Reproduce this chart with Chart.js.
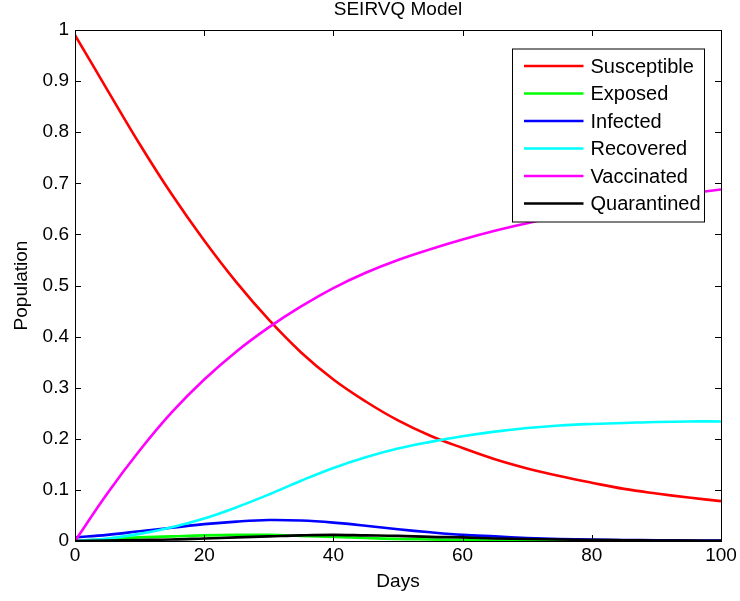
<!DOCTYPE html>
<html>
<head>
<meta charset="utf-8">
<title>SEIRVQ Model</title>
<script src="https://cdn.jsdelivr.net/npm/chart.js@4.4.1/dist/chart.umd.min.js"></script>
<style>
  html, body { margin: 0; padding: 0; background: #fff; }
  canvas { display: block; }
</style>
</head>
<body>
<canvas id="chart" width="740" height="601"></canvas>
<script>
// ── Data (every 5 days) ─────────────────────────────────────
const days = [0, 5, 10, 15, 20, 25, 30, 35, 40, 45, 50, 55, 60, 65, 70, 75, 80, 85, 90, 95, 100];

const susceptible = [0.990, 0.883, 0.777, 0.678, 0.588, 0.506, 0.433, 0.369, 0.316, 0.273, 0.236,
                     0.206, 0.182, 0.160, 0.142, 0.127, 0.114, 0.102, 0.093, 0.085, 0.078];
const exposed     = [0, 0.004, 0.007, 0.009, 0.011, 0.012, 0.012, 0.010, 0.008, 0.006, 0.004,
                     0.003, 0.002, 0.001, 0.0007, 0.0004, 0.0003, 0.0002, 0.0001, 0.0001, 0];
const infected    = [0.007, 0.012, 0.019, 0.026, 0.033, 0.038, 0.041, 0.040, 0.036, 0.030, 0.023,
                     0.017, 0.012, 0.009, 0.006, 0.004, 0.003, 0.002, 0.0015, 0.001, 0.001];
const recovered   = [0, 0.005, 0.014, 0.027, 0.044, 0.066, 0.091, 0.118, 0.143, 0.164, 0.181,
                     0.194, 0.205, 0.214, 0.221, 0.226, 0.229, 0.231, 0.233, 0.234, 0.234];
const vaccinated  = [0, 0.093, 0.177, 0.252, 0.316, 0.371, 0.418, 0.459, 0.495, 0.525, 0.550,
                     0.571, 0.590, 0.607, 0.622, 0.636, 0.649, 0.661, 0.671, 0.680, 0.688];
const quarantined = [0, 0.001, 0.002, 0.003, 0.005, 0.007, 0.009, 0.011, 0.012, 0.011, 0.010,
                     0.008, 0.007, 0.005, 0.004, 0.003, 0.002, 0.0015, 0.001, 0.0007, 0.0005];

const seriesNames  = ['Susceptible', 'Exposed', 'Infected', 'Recovered', 'Vaccinated', 'Quarantined'];
const seriesColors = ['#ff0000', '#00ff00', '#0000ff', '#00ffff', '#ff00ff', '#000000'];
const seriesValues = [susceptible, exposed, infected, recovered, vaccinated, quarantined];

const xTicks = [0, 20, 40, 60, 80, 100];
const yTicks = [0, 0.1, 0.2, 0.3, 0.4, 0.5, 0.6, 0.7, 0.8, 0.9, 1];

const FONT = '"Liberation Sans", Arial, Helvetica, sans-serif';

// ── Plugin: box, inward ticks, title, axis labels, legend ──
const matlabFrame = {
  id: 'matlabFrame',
  afterDatasetsDraw(chart) {
    const { ctx, chartArea: a, scales: { x, y } } = chart;
    ctx.save();
    ctx.strokeStyle = '#000';
    ctx.lineWidth = 1;
    ctx.strokeRect(Math.round(a.left) + 0.5, Math.round(a.top) + 0.5,
                   Math.round(a.right - a.left), Math.round(a.bottom - a.top));

    // ticks on all four sides, pointing inward
    const tl = 6;
    ctx.beginPath();
    xTicks.forEach(v => {
      const px = Math.round(x.getPixelForValue(v)) + 0.5;
      ctx.moveTo(px, a.bottom); ctx.lineTo(px, a.bottom - tl);
      ctx.moveTo(px, a.top);    ctx.lineTo(px, a.top + tl);
    });
    yTicks.forEach(v => {
      const py = Math.round(y.getPixelForValue(v)) + 0.5;
      ctx.moveTo(a.left, py);  ctx.lineTo(a.left + tl, py);
      ctx.moveTo(a.right, py); ctx.lineTo(a.right - tl, py);
    });
    ctx.stroke();

    // title + axis titles
    ctx.fillStyle = '#000';
    ctx.font = '19px ' + FONT;
    ctx.textAlign = 'center';
    ctx.textBaseline = 'alphabetic';
    const cx = (a.left + a.right) / 2;
    ctx.fillText('SEIRVQ Model', cx, 15);
    ctx.fillText('Days', cx, 587);
    ctx.save();
    ctx.translate(27, (a.top + a.bottom) / 2);
    ctx.rotate(-Math.PI / 2);
    ctx.fillText('Population', 0, 0);
    ctx.restore();

    // legend
    const bx = a.right - 208.5, by = a.top + 19, bw = 192, bh = 173;
    ctx.fillStyle = '#fff';
    ctx.fillRect(bx, by, bw, bh);
    ctx.strokeStyle = '#000';
    ctx.strokeRect(bx, by, bw, bh);
    ctx.font = '20px ' + FONT;
    ctx.textAlign = 'left';
    ctx.textBaseline = 'middle';
    seriesNames.forEach((name, i) => {
      const ry = by + 17 + i * 27.5;
      ctx.strokeStyle = seriesColors[i];
      ctx.lineWidth = 2.5;
      ctx.beginPath();
      ctx.moveTo(bx + 11.5, ry); ctx.lineTo(bx + 71, ry);
      ctx.stroke();
      ctx.fillStyle = '#000';
      ctx.fillText(name, bx + 78, ry + 1);
    });
    ctx.restore();
  }
};

const datasets = seriesNames.map((name, i) => ({
  label: name,
  data: days.map((d, j) => ({ x: d, y: seriesValues[i][j] })),
  borderColor: seriesColors[i],
  backgroundColor: seriesColors[i],
  borderWidth: 2.6,
  pointRadius: 0,
  fill: false,
  tension: 0.4,
  order: seriesNames.length - i
}));

new Chart(document.getElementById('chart').getContext('2d'), {
  type: 'line',
  data: { datasets },
  options: {
    responsive: false,
    animation: false,
    devicePixelRatio: 1,
    layout: { padding: { left: 0, top: 30, right: 19, bottom: 0 } },
    plugins: {
      legend: { display: false },
      title: { display: false },
      tooltip: { enabled: false }
    },
    scales: {
      x: {
        type: 'linear',
        min: 0, max: 100,
        afterBuildTicks: s => { s.ticks = xTicks.map(v => ({ value: v })); },
        ticks: { color: '#000', font: { family: FONT, size: 19 }, padding: 3, maxRotation: 0,
                 callback: v => String(v) },
        grid: { display: false, drawTicks: false },
        border: { display: false },
        afterFit: s => { s.height = 60; s.paddingLeft = 0; s.paddingRight = 0; }
      },
      y: {
        type: 'linear',
        min: 0, max: 1,
        afterBuildTicks: s => { s.ticks = yTicks.map(v => ({ value: v })); },
        ticks: { color: '#000', font: { family: FONT, size: 19 }, padding: 6,
                 callback: v => String(v) },
        grid: { display: false, drawTicks: false },
        border: { display: false },
        afterFit: s => { s.width = 75; s.paddingTop = 0; s.paddingBottom = 0; }
      }
    }
  },
  plugins: [matlabFrame]
});
</script>
</body>
</html>
